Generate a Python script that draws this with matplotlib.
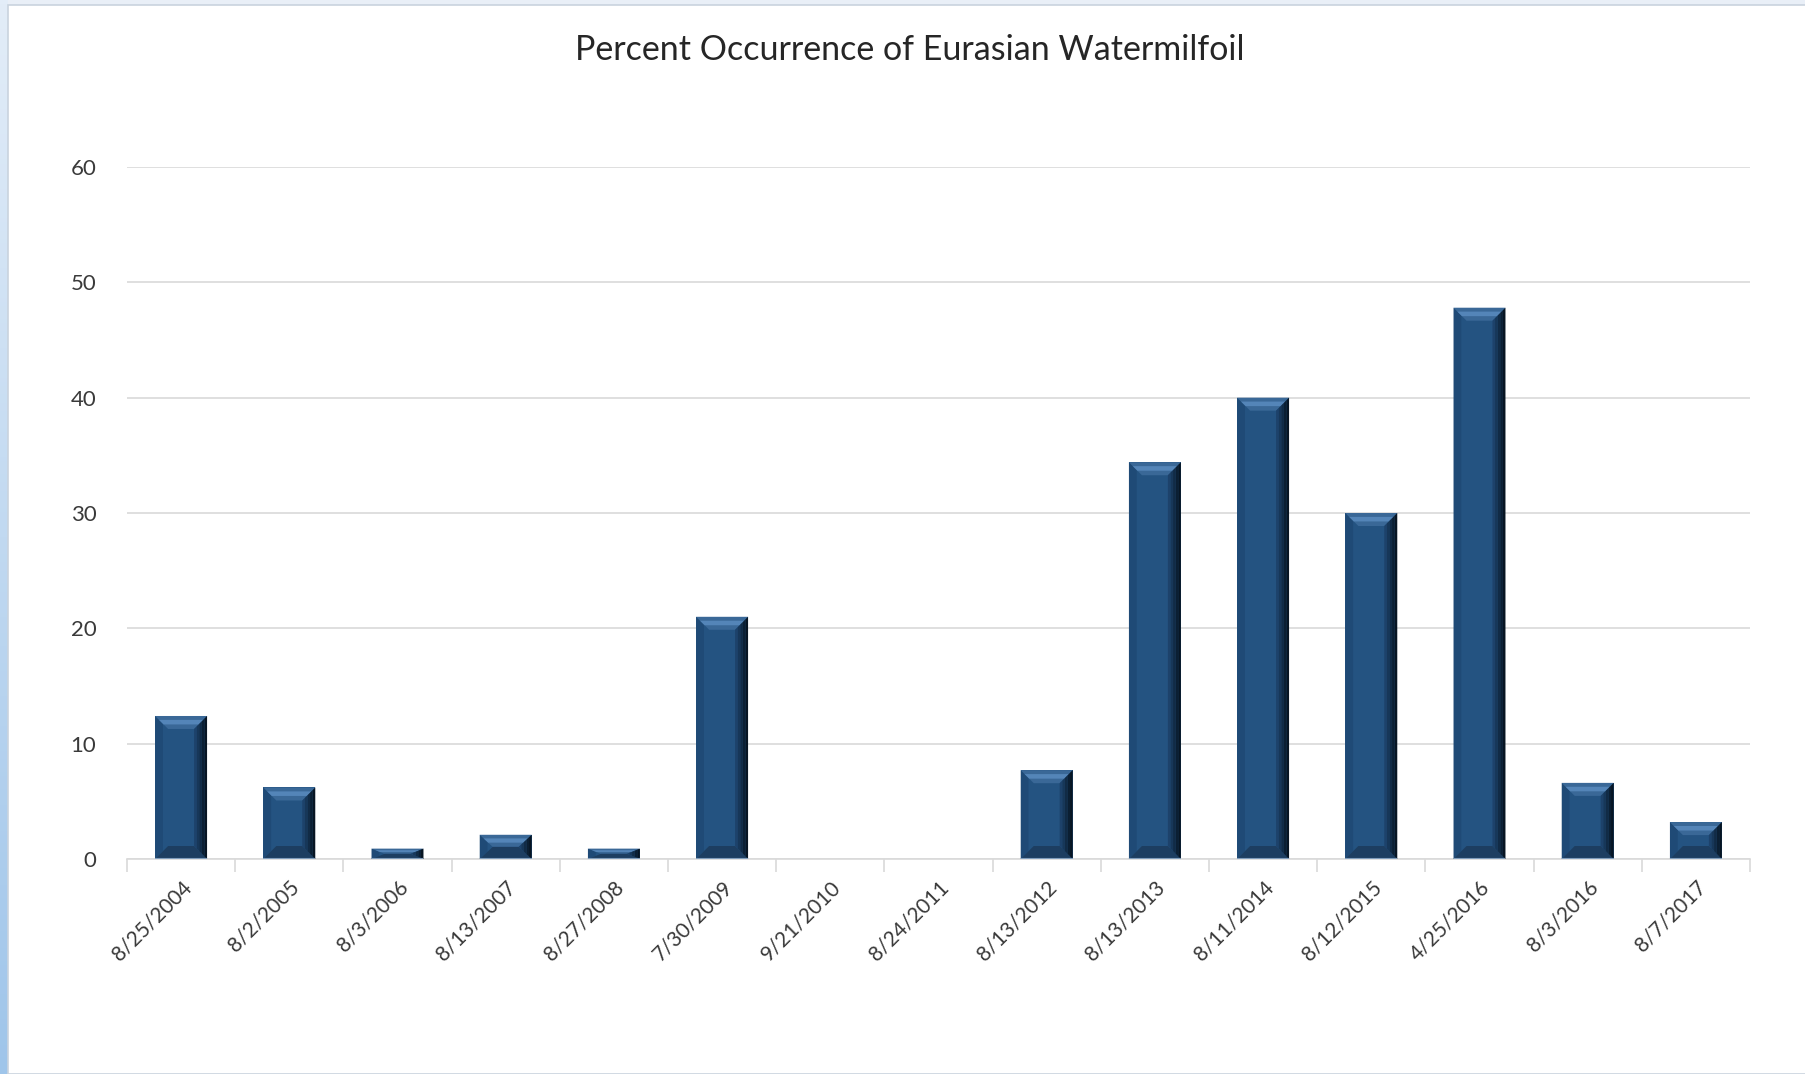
import matplotlib
matplotlib.use("Agg")
import matplotlib.pyplot as plt
from matplotlib.patches import Polygon, Rectangle
from matplotlib.colors import LinearSegmentedColormap
import numpy as np

title = "Percent Occurrence of Eurasian Watermilfoil"
dates = ["8/25/2004", "8/2/2005", "8/3/2006", "8/13/2007", "8/27/2008",
         "7/30/2009", "9/21/2010", "8/24/2011", "8/13/2012", "8/13/2013",
         "8/11/2014", "8/12/2015", "4/25/2016", "8/3/2016", "8/7/2017"]
values = [12.4, 6.2, 0.9, 2.1, 0.9, 21.0, 0.0, 0.0, 7.7, 34.4,
          40.0, 30.0, 47.8, 6.6, 3.2]
yticks = [0, 10, 20, 30, 40, 50, 60]

plt.rcParams['font.family'] = ['Lato', 'DejaVu Sans']

W, H = 1806, 1074
fig = plt.figure(figsize=(W / 100, H / 100), dpi=100)
fig.patch.set_facecolor("#e9eff7")

# left blue window strip (gradient)
bg = fig.add_axes([0, 0, 8 / W, 1], zorder=-5)
grad = np.linspace(0, 1, 256).reshape(-1, 1)
cm = LinearSegmentedColormap.from_list("s", ["#e3edf8", "#9fc5ea"])
bg.imshow(grad, aspect="auto", cmap=cm, extent=[0, 1, 0, 1], origin="upper")
bg.axis("off")

# white chart area with thin border
fig.patches.append(Rectangle((8 / W, 0), 1, (H - 5) / H, transform=fig.transFigure,
                             facecolor="white", edgecolor="#c9d3de", linewidth=1.2,
                             zorder=-1))

ax = fig.add_axes([127 / W, 215 / H, (1750 - 127) / W, (859 - 167) / H])
ax.set_facecolor("none")
x = np.arange(len(dates))
bw = 0.48
bars = ax.bar(x, values, width=bw, color="#245381", zorder=3, edgecolor="none")

ax.set_xlim(-0.5, len(dates) - 0.5)
ax.set_ylim(0, 60)

# bevel shading derived from each bar's geometry
px_x = (1750 - 127) / len(dates)   # pixels per category
px_y = (859 - 167) / 60.0          # pixels per unit
for b in bars:
    x0, w, h = b.get_x(), b.get_width(), b.get_height()
    if h <= 0:
        continue
    x1 = x0 + w
    by = min(13 / px_y, h / 2)      # bevel height in data units
    bx = 13 / px_x                  # bevel width in x data units
    # left slightly dark edge
    ax.add_patch(Polygon([[x0, 0], [x0 + bx * 0.6, by * 0.6], [x0 + bx * 0.6, h - by * 0.6], [x0, h]],
                         closed=True, facecolor="#1f4a76", edgecolor="none", zorder=4))
    # top highlight trapezoid with a light band
    ax.add_patch(Polygon([[x0, h], [x1, h], [x1 - bx, h - by], [x0 + bx, h - by]],
                         closed=True, facecolor="#3a6897", edgecolor="none", zorder=5))
    ax.add_patch(Polygon([[x0 + bx * 0.3, h - by * 0.3], [x1 - bx * 0.3, h - by * 0.3],
                          [x1 - bx * 0.65, h - by * 0.65], [x0 + bx * 0.65, h - by * 0.65]],
                         closed=True, facecolor="#5485b8", edgecolor="none", zorder=5))
    # bottom dark trapezoid
    ax.add_patch(Polygon([[x0, 0], [x1, 0], [x1 - bx, by], [x0 + bx, by]],
                         closed=True, facecolor="#1d3e61", edgecolor="none", zorder=5))
    # right dark edge (gradient strips)
    cols = ["#1d426b", "#173759", "#112b46", "#0b1f33", "#071523"]
    n = len(cols)
    for i, c in enumerate(cols):
        fa, fb = i / n, (i + 1) / n
        xa, xb = x1 - bx + fa * bx, x1 - bx + fb * bx
        ax.add_patch(Polygon([[xa, by * (1 - fa)], [xb, by * (1 - fb)],
                              [xb, h - by * (1 - fb)], [xa, h - by * (1 - fa)]],
                             closed=True, facecolor=c, edgecolor="none", zorder=6))
    # bottom base line
    ax.plot([x0, x1], [0, 0], color="#7f9cbb", lw=1.5, zorder=7, solid_capstyle="butt")

ax.set_yticks(yticks)
ax.set_yticklabels([str(v) for v in yticks], fontsize=16, color="#3a3a3a")
ax.yaxis.grid(True, color="#d9d9d9", linewidth=1.2, zorder=0)
ax.tick_params(axis="y", length=0, pad=22)

ax.set_xticks(x)
ax.set_xticklabels(dates, rotation=45, ha="right", rotation_mode="anchor",
                   fontsize=15, color="#3a3a3a")
ax.tick_params(axis="x", length=0, pad=13)
ax.set_xticks(np.arange(-0.5, len(dates)), minor=True)
ax.tick_params(axis="x", which="minor", length=9, width=1.2, color="#d9d9d9")

for s in ["top", "right", "left"]:
    ax.spines[s].set_visible(False)
ax.spines["bottom"].set_color("#d9d9d9")
ax.spines["bottom"].set_linewidth(1.2)

fig.text(910 / W, 1 - 50 / H, title, ha="center", va="center", fontsize=24.5, color="#262626")

fig.savefig("out.png", dpi=100)
